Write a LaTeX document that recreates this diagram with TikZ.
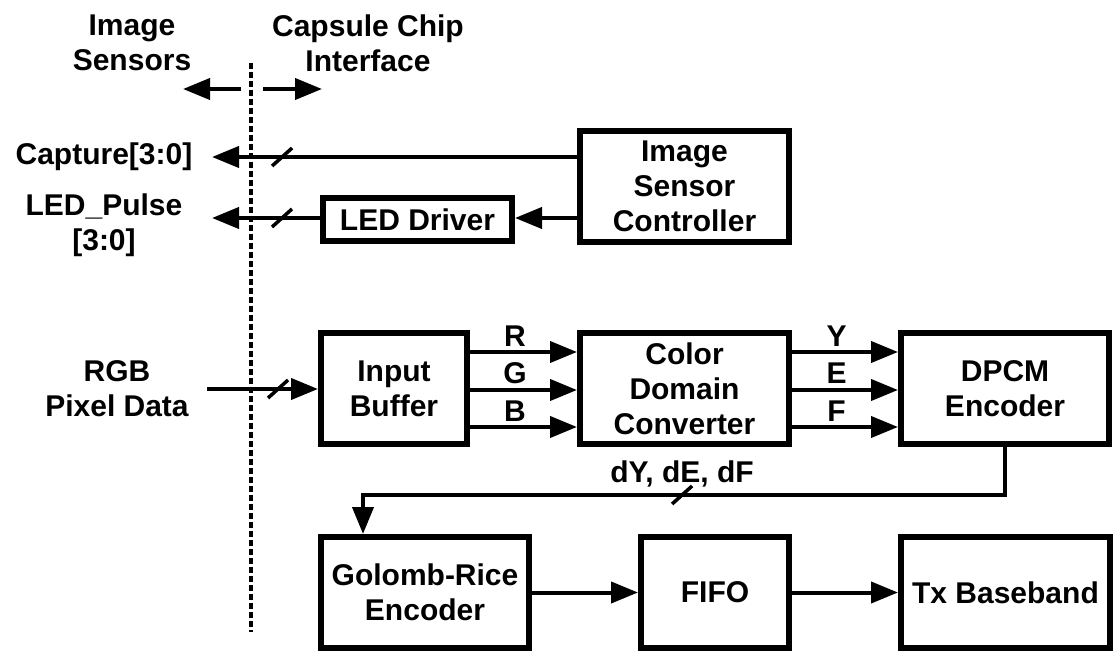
\documentclass[tikz,border=0pt]{standalone}
\usepackage{fontspec}
\setmainfont{Liberation Sans}
\usetikzlibrary{arrows.meta,positioning,calc}
\tikzset{
  blk/.style={draw, line width=6pt, fill=white, align=center, inner sep=0pt,
    font=\fontsize{30}{35}\selectfont\bfseries},
  lbl/.style={align=center, inner sep=0pt, font=\fontsize{30}{35}\selectfont\bfseries},
  conn/.style={line width=4pt, -{Triangle[length=27pt,width=21pt]}},
  busslash/.pic={\draw[-, line width=3.5pt] (-10,9) -- (10,-9);}
}
\begin{document}
\begin{tikzpicture}[x=1pt,y=-1pt]
\useasboundingbox (0,0) rectangle (1114,652);

% header labels
\node[lbl] (hsens) at (132,43) {Image\\Sensors};
\node[lbl] (hchip) at (368,43) {Capsule Chip\\Interface};
\coordinate (hl0) at (241,89);
\coordinate (hl1) at (183,89);
\coordinate (hr0) at (263,89);
\coordinate (hr1) at (322,89);
\draw[conn] (hl0) -- (hl1);
\draw[conn] (hr0) -- (hr1);

% boundary
\coordinate (dtop) at (251,63);
\coordinate (dbot) at (251,632);
\draw[line width=3.5pt, dash pattern=on 6pt off 3pt] (dtop) -- (dbot);

% blocks
\node[blk, minimum width=209pt, minimum height=111pt] (isc) at (684.5,186.5) {Image\\Sensor\\Controller};
\node[blk, minimum width=189pt, minimum height=43pt] (led) at (417.5,219.5) {LED Driver};
\node[blk, minimum width=146pt, minimum height=111pt] (inb) at (394,388.5) {Input\\Buffer};
\node[blk, minimum width=209pt, minimum height=111pt] (cdc) at (684.5,388.5) {Color\\Domain\\Converter};
\node[blk, minimum width=208pt, minimum height=111pt] (dpcm) at (1005,388.5) {DPCM\\Encoder};
\node[blk, minimum width=208pt, minimum height=111pt] (gr) at (425,592.5) {Golomb-Rice\\Encoder};
\node[blk, minimum width=148pt, minimum height=111pt] (fifo) at (715,592.5) {FIFO};
\node[blk, minimum width=209pt, minimum height=111pt] (tx) at (1005.5,592.5) {Tx Baseband};

% outside labels
\node[lbl] (capt) at (104,157) {Capture[3:0]};
\node[lbl] (ledp) at (104,225) {LED\_Pulse\\{[3:0]}};
\node[lbl] (rgb) at (117,389) {RGB\\Pixel Data};

% sensor side connectors
\coordinate (capttip) at (212,157);
\coordinate (ledtip) at (212,218);
\coordinate (rgbin) at (207,389);
\draw[conn] (isc.west |- capttip) -- (capttip) pic[pos=0.808]{busslash};
\draw[conn] (isc.west |- ledtip) -- (led.east |- ledtip);
\draw[conn] (led.west |- ledtip) -- (ledtip) pic[pos=0.352]{busslash};
\draw[conn] (rgbin) -- (inb.west |- rgbin) pic[pos=0.64]{busslash};

% RGB channels
\coordinate (c1) at (0,352);
\coordinate (c2) at (0,390);
\coordinate (c3) at (0,427);
\draw[conn] (inb.east |- c1) -- node[lbl, above=4pt, pos=0.42]{R} (cdc.west |- c1);
\draw[conn] (inb.east |- c2) -- node[lbl, above=4pt, pos=0.42]{G} (cdc.west |- c2);
\draw[conn] (inb.east |- c3) -- node[lbl, above=4pt, pos=0.42]{B} (cdc.west |- c3);
\draw[conn] (cdc.east |- c1) -- node[lbl, above=4pt, pos=0.42]{Y} (dpcm.west |- c1);
\draw[conn] (cdc.east |- c2) -- node[lbl, above=4pt, pos=0.42]{E} (dpcm.west |- c2);
\draw[conn] (cdc.east |- c3) -- node[lbl, above=4pt, pos=0.42]{F} (dpcm.west |- c3);

% DPCM to Golomb-Rice
\coordinate (bus) at (0,495);
\coordinate (grin) at (363,534);
\draw[conn] (dpcm.south) -- (dpcm.south |- bus) -- node[lbl, above=6pt, pos=0.503]{dY, dE, dF} pic[pos=0.503]{busslash} (grin |- bus) -- (grin |- gr.north);

% bottom chain
\draw[conn] (gr.east) -- (fifo.west);
\draw[conn] (fifo.east) -- (tx.west);
\end{tikzpicture}
\end{document}
